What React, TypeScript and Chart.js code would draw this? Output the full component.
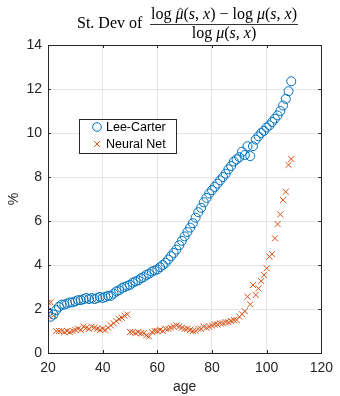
import React, { useEffect, useRef } from "react";
import { Chart, registerables } from "chart.js";
Chart.register(...registerables);

const ages = [
  20, 21, 22, 23, 24, 25, 26, 27, 28, 29,
  30, 31, 32, 33, 34, 35, 36, 37, 38, 39,
  40, 41, 42, 43, 44, 45, 46, 47, 48, 49,
  50, 51, 52, 53, 54, 55, 56, 57, 58, 59,
  60, 61, 62, 63, 64, 65, 66, 67, 68, 69,
  70, 71, 72, 73, 74, 75, 76, 77, 78, 79,
  80, 81, 82, 83, 84, 85, 86, 87, 88, 89,
  90, 91, 92, 93, 94, 95, 96, 97, 98, 99,
  100, 101, 102, 103, 104, 105, 106, 107, 108, 109,
];

const leeCarter = [
  1.85, 1.65, 1.75, 1.95, 2.1, 2.2, 2.2, 2.25, 2.3, 2.3,
  2.35, 2.4, 2.4, 2.45, 2.5, 2.45, 2.5, 2.45, 2.5, 2.55,
  2.5, 2.55, 2.6, 2.6, 2.7, 2.8, 2.85, 2.95, 3.0, 3.05,
  3.1, 3.2, 3.25, 3.3, 3.4, 3.45, 3.55, 3.6, 3.7, 3.75,
  3.8, 3.9, 4.0, 4.1, 4.25, 4.4, 4.55, 4.7, 4.9, 5.1,
  5.3, 5.5, 5.7, 5.9, 6.15, 6.4, 6.6, 6.85, 7.05, 7.25,
  7.4, 7.55, 7.7, 7.85, 8.0, 8.15, 8.35, 8.5, 8.7, 8.8,
  8.9, 9.15, 9.0, 9.4, 8.95, 9.4, 9.7, 9.85, 10.0, 10.1,
  10.25, 10.35, 10.5, 10.65, 10.8, 11.0, 11.25, 11.55, 11.9, 12.35,
];

const neuralNet = [
  2.3, 2.3, 1.7, 1.0, 1.0, 1.0, 0.95, 1.0, 0.95, 1.0,
  1.05, 1.1, 1.05, 1.2, 1.15, 1.1, 1.2, 1.15, 1.1, 1.05,
  1.1, 1.05, 1.15, 1.25, 1.35, 1.45, 1.55, 1.6, 1.7, 1.75,
  0.95, 0.95, 0.9, 0.95, 0.9, 0.9, 0.8, 0.75, 0.95, 1.0,
  1.0, 1.05, 1.0, 1.1, 1.1, 1.15, 1.2, 1.25, 1.2, 1.15,
  1.1, 1.1, 1.05, 1.0, 1.0, 1.1, 1.1, 1.2, 1.15, 1.2,
  1.25, 1.3, 1.3, 1.35, 1.35, 1.4, 1.4, 1.45, 1.5, 1.5,
  1.65, 1.76, 1.9, 2.56, 2.21, 3.09, 2.64, 2.94, 3.27, 3.55,
  3.85, 4.38, 4.5, 5.21, 5.86, 6.3, 6.95, 7.33, 8.55, 8.82,
];

const xTicks = [20, 40, 60, 80, 100, 120];
const yTicks = [0, 2, 4, 6, 8, 10, 12, 14];
const seriesNames = ["Lee-Carter", "Neural Net"];

const SANS = "'Liberation Sans', Arial, Helvetica, sans-serif";
const SERIF = "'Liberation Serif', 'Times New Roman', serif";
const BLUE = "#0072BD";
const ORANGE = "#D95319";
const AXIS = "#262626";

type Seg = [string, boolean];

function drawSegs(ctx: CanvasRenderingContext2D, segs: Seg[], cx: number, y: number, size: number) {
  const widths = segs.map(([t, it]) => {
    ctx.font = `${it ? "italic " : ""}${size}px ${SERIF}`;
    return ctx.measureText(t).width;
  });
  const total = widths.reduce((a, b) => a + b, 0);
  let x = cx - total / 2;
  const pos: number[] = [];
  segs.forEach(([t, it], i) => {
    ctx.font = `${it ? "italic " : ""}${size}px ${SERIF}`;
    pos.push(x);
    ctx.fillText(t, x, y);
    x += widths[i];
  });
  return { pos, widths, left: cx - total / 2, right: cx + total / 2 };
}

const decorPlugin = {
  id: "decor",
  afterDraw(chart: any) {
    const ctx: CanvasRenderingContext2D = chart.ctx;
    const { left, right, top, bottom } = chart.chartArea;
    const xs = chart.scales.x;
    const ys = chart.scales.y;
    ctx.save();
    // box
    ctx.strokeStyle = AXIS;
    ctx.lineWidth = 1;
    ctx.strokeRect(Math.round(left) + 0.5, Math.round(top) + 0.5, Math.round(right - left), Math.round(bottom - top));
    // inward ticks
    const tl = 3;
    ctx.beginPath();
    xTicks.forEach((v) => {
      const px = Math.round(xs.getPixelForValue(v)) + 0.5;
      ctx.moveTo(px, bottom);
      ctx.lineTo(px, bottom - tl);
      ctx.moveTo(px, top);
      ctx.lineTo(px, top + tl);
    });
    yTicks.forEach((v) => {
      const py = Math.round(ys.getPixelForValue(v)) + 0.5;
      ctx.moveTo(left, py);
      ctx.lineTo(left + tl, py);
      ctx.moveTo(right, py);
      ctx.lineTo(right - tl, py);
    });
    ctx.stroke();

    // legend
    const lx = 79.5, ly = 119.5, lw = 97, lh = 34;
    ctx.fillStyle = "#ffffff";
    ctx.fillRect(lx, ly, lw, lh);
    ctx.strokeStyle = "#262626";
    ctx.lineWidth = 1;
    ctx.strokeRect(lx, ly, lw, lh);
    ctx.fillStyle = "#000000";
    ctx.font = `12.5px ${SANS}`;
    ctx.textBaseline = "middle";
    ctx.textAlign = "left";
    ctx.fillText(seriesNames[0], 106, 127.5);
    ctx.fillText(seriesNames[1], 106, 144.5);
    ctx.strokeStyle = BLUE;
    ctx.beginPath();
    ctx.arc(97, 127, 4.3, 0, Math.PI * 2);
    ctx.stroke();
    ctx.strokeStyle = ORANGE;
    ctx.beginPath();
    const c = 3;
    ctx.moveTo(97 - c, 144 - c);
    ctx.lineTo(97 + c, 144 + c);
    ctx.moveTo(97 - c, 144 + c);
    ctx.lineTo(97 + c, 144 - c);
    ctx.stroke();

    // title
    ctx.fillStyle = "#000000";
    ctx.textBaseline = "alphabetic";
    ctx.textAlign = "left";
    const size = 16;
    ctx.font = `${size}px ${SERIF}`;
    ctx.fillText("St. Dev of", 77, 28);
    const num: Seg[] = [
      ["log ", false], ["\u03bc", true], ["(", false], ["s", true], [", ", false], ["x", true], [")", false],
      [" \u2212 ", false], ["log ", false], ["\u03bc", true], ["(", false], ["s", true], [", ", false], ["x", true], [")", false],
    ];
    const cx = 224;
    const r = drawSegs(ctx, num, cx, 19, size);
    // hat over first mu
    const hx = r.pos[1] + r.widths[1] / 2 + 1;
    ctx.strokeStyle = "#000";
    ctx.lineWidth = 0.9;
    ctx.beginPath();
    ctx.moveTo(hx - 2.7, 10.6);
    ctx.lineTo(hx, 8.2);
    ctx.lineTo(hx + 2.7, 10.6);
    ctx.stroke();
    const den: Seg[] = [
      ["log ", false], ["\u03bc", true], ["(", false], ["s", true], [", ", false], ["x", true], [")", false],
    ];
    drawSegs(ctx, den, cx, 37.5, size);
    ctx.lineWidth = 0.8;
    ctx.beginPath();
    ctx.moveTo(r.left - 1, 24.5);
    ctx.lineTo(r.right + 1, 24.5);
    ctx.stroke();
    ctx.restore();
  },
};

export default function App() {
  const ref = useRef<HTMLCanvasElement | null>(null);
  useEffect(() => {
    document.body.style.margin = "0";
    const canvas = ref.current;
    if (!canvas) return;
    const lcData = ages.map((a, i) => ({ x: a, y: leeCarter[i] }));
    const nnData = ages.map((a, i) => ({ x: a, y: neuralNet[i] }));
    const chart = new Chart(canvas, {
      type: "scatter",
      data: {
        datasets: [
          {
            label: seriesNames[0],
            data: lcData,
            pointStyle: "circle",
            pointRadius: 4.5,
            borderColor: BLUE,
            backgroundColor: "rgba(0,0,0,0)",
            pointBorderWidth: 1,
            showLine: false,
          },
          {
            label: seriesNames[1],
            data: nnData,
            pointStyle: "crossRot",
            pointRadius: 4.3,
            borderColor: ORANGE,
            backgroundColor: ORANGE,
            pointBorderWidth: 1,
            showLine: false,
          },
        ],
      },
      options: {
        responsive: false,
        animation: false,
        layout: { padding: { top: 45, right: 11, left: 0, bottom: 0 } },
        plugins: {
          legend: { display: false },
          title: { display: false },
          tooltip: { enabled: false },
        },
        scales: {
          x: {
            type: "linear",
            min: 20,
            max: 120,
            afterBuildTicks: (s: any) => {
              s.ticks = xTicks.map((v) => ({ value: v }));
            },
            ticks: { color: AXIS, padding: 7, maxRotation: 0, font: { family: SANS, size: 14 } },
            grid: { color: "#e6e6e6", drawTicks: false },
            border: { display: false },
            title: {
              display: true,
              text: "age",
              color: AXIS,
              font: { family: SANS, size: 14 },
              padding: { top: 0, bottom: 0 },
            },
            afterFit: (s: any) => {
              s.height = 43;
            },
          },
          y: {
            type: "linear",
            min: 0,
            max: 14,
            afterBuildTicks: (s: any) => {
              s.ticks = yTicks.map((v) => ({ value: v }));
            },
            ticks: { color: AXIS, padding: 6, font: { family: SANS, size: 14 } },
            grid: { color: "#e6e6e6", drawTicks: false },
            border: { display: false },
            title: {
              display: true,
              text: "%",
              color: AXIS,
              font: { family: SANS, size: 14 },
              padding: { top: 6, bottom: 0 },
            },
            afterFit: (s: any) => {
              s.width = 48;
            },
          },
        },
      },
      plugins: [decorPlugin],
    } as any);
    return () => chart.destroy();
  }, []);
  return (
    <div style={{ width: 340, height: 396, background: "#fff" }}>
      <canvas ref={ref} width={340} height={396} style={{ display: "block" }} />
    </div>
  );
}
